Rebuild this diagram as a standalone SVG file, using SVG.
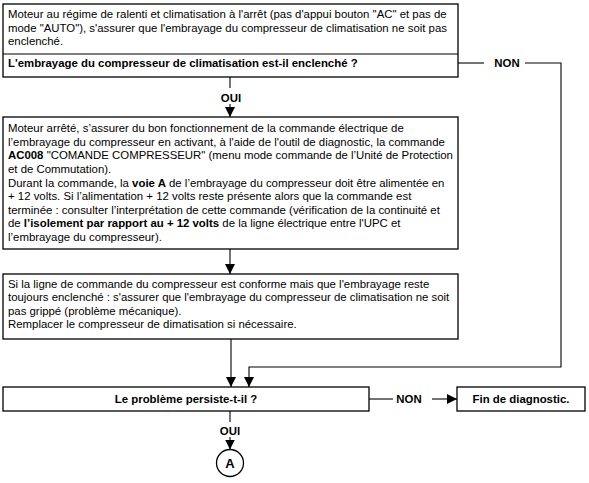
<svg xmlns="http://www.w3.org/2000/svg" width="589" height="483" viewBox="0 0 589 483">
<style>
text{font-family:"Liberation Sans",Arial,sans-serif;font-size:11.4px;fill:#000}
.b{font-weight:bold}
.c{text-anchor:middle}
.box{fill:#fff;stroke:#000;stroke-width:1.3}
.ln{fill:none;stroke:#000;stroke-width:1.1}
</style>
<defs>
<marker id="ah" markerUnits="userSpaceOnUse" markerWidth="10" markerHeight="12" viewBox="0 0 10 12" refX="10" refY="5" orient="auto">
<path d="M0,0 L10,5 L0,10 z" fill="#000"/>
</marker>
</defs>
<rect width="589" height="483" fill="#fff"/>

<g id="connectors">
<line class="ln" x1="230" y1="77" x2="230" y2="88"/>
<text class="b c" x="231" y="102">OUI</text>
<line class="ln" x1="230" y1="104" x2="230" y2="117" marker-end="url(#ah)"/>
<line class="ln" x1="230" y1="249" x2="230" y2="274" marker-end="url(#ah)"/>
<line class="ln" x1="231" y1="339" x2="231" y2="387" marker-end="url(#ah)"/>
<line class="ln" x1="458" y1="63" x2="484" y2="63"/>
<text class="b c" x="507" y="67">NON</text>
<polyline class="ln" points="525,63 561,63 561,367 249,367 249,387" marker-end="url(#ah)"/>
<line class="ln" x1="369" y1="399" x2="393" y2="399"/>
<text class="b c" x="409" y="403">NON</text>
<line class="ln" x1="432" y1="399" x2="457" y2="399" marker-end="url(#ah)"/>
<line class="ln" x1="230" y1="411" x2="230" y2="422"/>
<text class="b c" x="230" y="435">OUI</text>
<line class="ln" x1="230" y1="437" x2="230" y2="449.5" marker-end="url(#ah)"/>
</g>

<g id="n1">
<rect class="box" x="3" y="4" width="455" height="73"/>
<line class="ln" x1="3" y1="54" x2="458" y2="54" stroke-width="1.3"/>
<text x="8" y="18">Moteur au régime de ralenti et climatisation à l'arrêt (pas d'appui bouton "AC" et pas de</text>
<text x="8" y="31.5">mode "AUTO"), s'assurer que l'embrayage du compresseur de climatisation ne soit pas</text>
<text x="8" y="45">enclenché.</text>
<text class="b" x="8" y="67">L'embrayage du compresseur de climatisation est-il enclenché ?</text>
</g>

<g id="n2">
<rect class="box" x="3" y="117" width="455" height="132"/>
<text x="8" y="132">Moteur arrêté, s’assurer du bon fonctionnement de la commande électrique de</text>
<text x="8" y="145.6">l’embrayage du compresseur en activant, à l'aide de l'outil de diagnostic, la commande</text>
<text x="8" y="159.3"><tspan class="b">AC008</tspan> "COMANDE COMPRESSEUR" (menu mode commande de l’Unité de Protection</text>
<text x="8" y="172.9">et de Commutation).</text>
<text x="8" y="186.5">Durant la commande, la <tspan class="b">voie A</tspan> de l’embrayage du compresseur doit être alimentée en</text>
<text x="8" y="200.1">+ 12 volts. Si l’alimentation + 12 volts reste présente alors que la commande est</text>
<text x="8" y="213.8">terminée : consulter l’interprétation de cette commande (vérification de la continuité et</text>
<text x="8" y="227.4">de <tspan class="b">l’isolement par rapport au + 12 volts</tspan> de la ligne électrique entre l'UPC et</text>
<text x="8" y="241">l’embrayage du compresseur).</text>
</g>

<g id="n3">
<rect class="box" x="3" y="274" width="455" height="65"/>
<text x="8" y="288">Si la ligne de commande du compresseur est conforme mais que l'embrayage reste</text>
<text x="8" y="301.3">toujours enclenché : s'assurer que l'embrayage du compresseur de climatisation ne soit</text>
<text x="8" y="314.7">pas grippé (problème mécanique).</text>
<text x="8" y="328">Remplacer le compresseur de dimatisation si nécessaire.</text>
</g>

<g id="n4">
<rect class="box" x="3" y="387" width="366" height="24"/>
<text class="b c" x="186" y="403">Le problème persiste-t-il ?</text>
</g>

<g id="n5">
<rect class="box" x="457" y="387" width="128" height="24"/>
<text class="b c" x="521" y="403">Fin de diagnostic.</text>
</g>

<g id="n6">
<circle cx="230" cy="463" r="13.5" fill="#fff" stroke="#000" stroke-width="1.3"/>
<text class="b c" x="230" y="468" style="font-size:13px">A</text>
</g>
</svg>
